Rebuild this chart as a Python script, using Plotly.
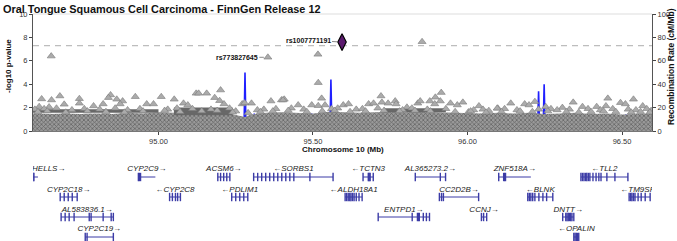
import plotly.graph_objects as go

# ---------------- data ----------------
# scattered (visible) association points: position (Mb), -log10 p
snp_pos = [94.653, 95.354, 95.516, 95.517, 95.853,
           94.622, 94.654, 94.681, 94.744, 94.845, 94.838, 94.865, 94.884, 94.876, 94.925,
           95.009, 95.051, 94.744, 94.695, 94.790, 94.821, 94.962, 94.984, 95.081, 94.614, 94.646,
           95.122, 95.130, 95.156, 95.201, 95.182, 95.198, 95.212, 95.364, 95.398, 95.407,
           95.528, 95.301, 95.271, 95.452, 95.496, 95.517, 95.539, 95.095, 95.341, 95.279, 95.403,
           95.915, 95.896, 95.720, 95.723, 95.743, 95.766, 95.769, 95.839, 95.847, 95.878,
           95.912, 95.894, 95.598, 95.615, 95.680, 95.696, 95.945, 95.967, 95.985, 96.037,
           96.069, 96.098, 95.804, 96.003,
           96.140, 96.185, 96.199, 96.218, 96.342, 96.418, 96.454, 96.495, 96.511, 96.537,
           96.096, 96.253, 96.307, 96.372, 96.448, 96.545, 96.567, 96.594,
           94.600, 94.630, 94.670, 94.720, 94.760, 94.810, 94.860, 94.900, 94.940, 95.030,
           95.060, 95.110, 95.170, 95.230, 95.250, 95.320, 95.380, 95.430, 95.470, 95.560,
           95.580, 95.640, 95.660, 95.710, 95.790, 95.820, 95.870, 95.930, 96.020, 96.050,
           96.120, 96.160, 96.230, 96.270, 96.290, 96.330, 96.390, 96.430, 96.470, 96.520,
           96.580,
           94.610, 94.640, 94.700, 94.770, 94.830, 94.890, 94.950, 95.020, 95.070, 95.140,
           95.190, 95.240, 95.290, 95.330, 95.370, 95.420, 95.480, 95.530, 95.570, 95.620,
           95.670, 95.730, 95.780, 95.830, 95.880, 95.960, 96.010, 96.060, 96.110, 96.170,
           96.210, 96.260, 96.320, 96.360, 96.400, 96.440, 96.480, 96.530, 96.560, 96.590]
snp_logp = [6.40, 6.30, 6.55, 4.13, 7.63,
            2.74, 2.65, 2.99, 2.76, 3.08, 2.85, 2.71, 2.56, 2.31, 2.93,
            2.93, 2.71, 2.37, 2.28, 2.14, 2.31, 2.31, 2.31, 2.37, 2.08, 2.05,
            3.22, 3.22, 3.22, 3.50, 2.85, 2.59, 2.31, 2.56, 2.65, 2.71,
            2.79, 2.37, 2.31, 2.22, 2.22, 2.16, 2.22, 2.22, 1.85, 2.40, 2.65,
            3.28, 2.88, 2.99, 2.45, 2.37, 2.56, 2.31, 2.37, 2.56, 2.56,
            2.56, 2.31, 2.22, 2.31, 2.31, 2.37, 2.37, 2.22, 2.45, 2.14,
            1.74, 1.94, 2.03, 1.62,
            2.37, 2.31, 2.22, 2.51, 2.45, 2.08, 2.79, 2.42, 2.31, 2.71,
            1.94, 2.08, 2.00, 2.08, 2.14, 1.80, 2.14, 1.74,
            1.85, 1.90, 1.95, 1.80, 1.90, 1.85, 1.95, 1.80, 1.90, 1.85,
            1.95, 1.90, 1.85, 1.95, 1.70, 1.80, 1.90, 1.95, 1.85, 1.90,
            1.95, 1.85, 1.90, 1.95, 1.80, 1.95, 1.85, 1.90, 1.80, 1.85,
            1.90, 1.80, 1.85, 1.90, 1.80, 1.85, 1.90, 1.80, 1.90, 1.85,
            1.90,
            1.65, 1.70, 1.60, 1.70, 1.65, 1.60, 1.70, 1.75, 1.65, 1.70,
            1.75, 1.60, 1.55, 1.65, 1.70, 1.75, 1.65, 1.70, 1.75, 1.65,
            1.70, 1.75, 1.70, 1.75, 1.70, 1.65, 1.70, 1.60, 1.65, 1.70,
            1.65, 1.70, 1.65, 1.60, 1.65, 1.70, 1.65, 1.60, 1.65, 1.60]

lead_pos = [95.594]
lead_logp = [7.60]
lead_name = "rs1007771191"
second_name = "rs773827645"
second_pos = 95.354
second_logp = 6.30
gw_threshold = 7.3

# dense band of SNPs (upper envelope)
band_pos = [94.59, 94.65, 94.70, 94.75, 94.80, 94.85, 94.90, 94.95, 95.00, 95.05, 95.10,
            95.15, 95.20, 95.25, 95.28, 95.30, 95.35, 95.40, 95.45, 95.50, 95.55, 95.60,
            95.65, 95.70, 95.75, 95.80, 95.85, 95.90, 95.95, 96.00, 96.05, 96.10, 96.15,
            96.20, 96.25, 96.30, 96.35, 96.40, 96.45, 96.50, 96.55, 96.60]
band_top = [1.50, 1.45, 1.50, 1.45, 1.50, 1.45, 1.55, 1.50, 1.60, 1.55, 1.65,
            1.60, 1.65, 1.40, 1.20, 1.40, 1.55, 1.60, 1.55, 1.50, 1.65, 1.60,
            1.55, 1.60, 1.65, 1.60, 1.65, 1.60, 1.55, 1.55, 1.50, 1.55, 1.50,
            1.55, 1.45, 1.50, 1.55, 1.45, 1.50, 1.40, 1.45, 1.50]

# darker LD streaks inside the band
streak_start = [94.59, 95.05, 95.73]
streak_end = [95.00, 95.24, 95.93]
streak_low = [1.55, 1.35, 1.60]
streak_high = [1.85, 2.00, 1.95]

# recombination rate (cM/Mb)
recomb_pos = [94.59, 94.80, 95.00, 95.277, 95.280, 95.283, 95.307, 95.310, 95.313,
              95.493, 95.496, 95.499, 95.555, 95.558, 95.561, 95.80, 96.227, 96.230,
              96.233, 96.245, 96.248, 96.251, 96.510, 96.513, 96.516, 96.60]
recomb_rate = [3, 2, 3, 4, 50, 4, 5, 15, 5,
               4, 15, 4, 5, 44, 6, 3, 4, 34,
               5, 5, 40, 5, 4, 14, 4, 3]

# genes
gene_names = ["HELLS", "CYP2C9", "ACSM6", "SORBS1", "TCTN3", "AL365273.2", "ZNF518A", "TLL2",
              "CYP2C18", "CYP2C8", "PDLIM1", "ALDH18A1", "CC2D2B", "BLNK", "TM9SF3",
              "AL583836.1", "ENTPD1", "CCNJ", "DNTT",
              "CYP2C19", "OPALIN"]
gene_start = [94.591, 94.935, 95.192, 95.308, 95.662, 95.831, 96.101, 96.367,
              94.682, 95.036, 95.237, 95.604, 95.909, 96.195, 96.523,
              94.685, 95.711, 96.045, 96.308,
              94.763, 96.344]
gene_end = [94.610, 94.990, 95.231, 95.565, 95.695, 95.929, 96.205, 96.519,
            94.737, 95.071, 95.289, 95.659, 96.036, 96.276, 96.591,
            94.854, 95.877, 96.062, 96.344,
            94.854, 96.360]
gene_strand = ["+", "+", "+", "-", "-", "+", "+", "-",
               "+", "-", "-", "-", "+", "-", "-",
               "+", "+", "+", "+",
               "+", "-"]
gene_row = [1, 1, 1, 1, 1, 1, 1, 1,
            2, 2, 2, 2, 2, 2, 2,
            3, 3, 3, 3,
            4, 4]
gene_exons = [
    [94.591, 94.594, 94.597],
    [94.935, 94.938, 94.942],
    [95.192, 95.201, 95.211, 95.221, 95.231],
    [95.308, 95.321, 95.334, 95.347, 95.360, 95.373, 95.386, 95.399, 95.412, 95.425, 95.438, 95.490, 95.565],
    [95.662, 95.679, 95.682, 95.685, 95.695],
    [95.831, 95.912, 95.929],
    [96.101, 96.117, 96.120, 96.123],
    [96.367, 96.372, 96.377, 96.382, 96.386, 96.391, 96.396, 96.406, 96.416, 96.425, 96.432, 96.451, 96.477, 96.519],
    [94.682, 94.695, 94.708, 94.721, 94.737],
    [95.036, 95.045, 95.055, 95.062, 95.071],
    [95.237, 95.250, 95.263, 95.276, 95.289],
    [95.604, 95.609, 95.614, 95.619, 95.623, 95.628, 95.633, 95.640, 95.649, 95.659],
    [95.909, 95.916, 95.922, 96.036],
    [96.195, 96.200, 96.205, 96.211, 96.218, 96.231, 96.244, 96.256, 96.276],
    [96.523, 96.528, 96.532, 96.537, 96.542, 96.552, 96.562, 96.575, 96.591],
    [94.685, 94.698, 94.711, 94.727, 94.776, 94.782, 94.821, 94.847, 94.854],
    [95.711, 95.821, 95.838, 95.841, 95.844, 95.857, 95.867, 95.877],
    [96.045, 96.052, 96.062],
    [96.308, 96.318, 96.322, 96.326, 96.330, 96.334, 96.338, 96.344],
    [94.763, 94.769, 94.854],
    [96.344, 96.348, 96.352, 96.356, 96.360],
]

x_range = [94.594, 96.597]
x_ticks = [95.0, 95.5, 96.0, 96.5]
left_ticks = [0, 2, 4, 6, 8, 10]
right_ticks = [0, 20, 40, 60, 80, 100]

# ---------------- layout constants ----------------
W, H = 677, 241
ML, MR, MT, MB = 33, 25, 14, 0
PH = H - MT - MB
PW = W - ML - MR
FONT = "Arial, 'Liberation Sans', Helvetica, sans-serif"
GENE_COLOR = "#3b3ba6"
GRAY_TRI = "#ababab"

def py(pix):
    return (H - MB - pix) / PH

def px(pix):
    return (pix - ML) / PW

main_dom = [py(131), 1.0]
gene_dom = [0.0, py(160)]
row_bar = {1: 17, 2: 37, 3: 57, 4: 77}
row_lab = {1: 9, 2: 30, 3: 50, 4: 69}

fig = go.Figure()

# recombination rate, scaled onto the -log10 axis (100 cM/Mb == 10)
fig.add_trace(go.Scatter(x=recomb_pos, y=[r / 10.0 for r in recomb_rate], mode="lines",
                         line=dict(color="#2020ff", width=1.6), hoverinfo="skip",
                         xaxis="x", yaxis="y"))

# dense band
fig.add_trace(go.Scatter(x=band_pos, y=band_top, mode="lines", fill="tozeroy",
                         line=dict(width=0, color="#8a8a8a"),
                         fillcolor="#8e8e8e",
                         fillpattern=dict(shape="x", size=3, solidity=0.4,
                                          fgcolor="#5e5e5e", bgcolor="#9a9a9a"),
                         hoverinfo="skip", xaxis="x", yaxis="y"))

# LD streaks
for s, e, lo, hi in zip(streak_start, streak_end, streak_low, streak_high):
    fig.add_trace(go.Scatter(x=[s, e, e, s, s], y=[lo, lo, hi, hi, lo], mode="lines",
                             fill="toself", line=dict(width=0),
                             fillcolor="#707070",
                             fillpattern=dict(shape="-", size=2, solidity=0.5,
                                              fgcolor="#4a4a4a", bgcolor="#858585"),
                             hoverinfo="skip", xaxis="x", yaxis="y"))

# scattered points
fig.add_trace(go.Scatter(x=snp_pos, y=snp_logp, mode="markers",
                         marker=dict(symbol="triangle-up", size=7, color=GRAY_TRI,
                                     line=dict(width=0.6, color="#7a7a7a")),
                         hoverinfo="skip", xaxis="x", yaxis="y"))

# lead SNP
fig.add_trace(go.Scatter(x=lead_pos, y=lead_logp, mode="markers",
                         marker=dict(symbol="diamond-tall", size=12, color="#5b1a6e",
                                     line=dict(width=1.2, color="black")),
                         hoverinfo="skip", xaxis="x", yaxis="y"))

# dummy trace for right axis
fig.add_trace(go.Scatter(x=[x_range[0]], y=[0], mode="markers", marker=dict(opacity=0),
                         hoverinfo="skip", xaxis="x", yaxis="y2"))

# genes
body_x, body_y = [], []
ex_x, ex_y = [], []
lab_x, lab_y, lab_t, lab_pos = [], [], [], []
for name, s, e, strand, row, exons in zip(gene_names, gene_start, gene_end, gene_strand,
                                          gene_row, gene_exons):
    yb = row_bar[row]
    body_x += [s, e, None]
    body_y += [yb, yb, None]
    for ex in exons:
        ex_x.append(ex)
        ex_y.append(yb)
    text = f"{name}\u2192" if strand == "+" else f"\u2190{name}"
    if s - x_range[0] < 0.02:
        lab_x.append(s)
        lab_pos.append("middle right")
    else:
        lab_x.append((s + e) / 2)
        lab_pos.append("middle center")
    lab_y.append(row_lab[row])
    lab_t.append(text)

fig.add_trace(go.Scatter(x=body_x, y=body_y, mode="lines",
                         line=dict(color=GENE_COLOR, width=1), hoverinfo="skip",
                         xaxis="x", yaxis="y3"))
fig.add_trace(go.Scatter(x=ex_x, y=ex_y, mode="markers",
                         marker=dict(symbol="line-ns", size=6,
                                     line=dict(width=1.4, color=GENE_COLOR)),
                         hoverinfo="skip", xaxis="x", yaxis="y3"))
fig.add_trace(go.Scatter(x=lab_x, y=lab_y, mode="text", text=lab_t, textposition=lab_pos,
                         textfont=dict(family=FONT, size=8, color="#222222", style="italic"),
                         hoverinfo="skip", xaxis="x", yaxis="y3"))

tickfont = dict(family=FONT, size=7.5, color="#333333")
fig.update_layout(
    template="none",
    width=W, height=H, autosize=False, margin=dict(l=ML, r=MR, t=MT, b=MB, pad=0),
    paper_bgcolor="white", plot_bgcolor="white", showlegend=False,
    xaxis=dict(range=x_range, domain=[0, 1], anchor="y", tickvals=x_ticks,
               tickformat=".2f", ticks="outside", ticklen=3, tickcolor="#444",
               showline=True, linecolor="#777", linewidth=1, showgrid=False,
               zeroline=False, tickfont=tickfont, automargin=False),
    yaxis=dict(range=[0, 10], domain=main_dom, tickvals=left_ticks, ticks="outside",
               ticklen=3, tickcolor="#444", showline=True, linecolor="#555",
               linewidth=1, showgrid=False, zeroline=False, tickfont=tickfont,
               automargin=False),
    yaxis2=dict(range=[0, 100], overlaying="y", side="right", anchor="x",
                tickvals=right_ticks, ticks="outside", ticklen=3, tickcolor="#444",
                showline=True, linecolor="#555", linewidth=1, showgrid=False,
                zeroline=False, tickfont=tickfont, automargin=False),
    yaxis3=dict(range=[81, 0], domain=gene_dom, visible=False, anchor="x",
                automargin=False),
)

# threshold line
fig.add_shape(type="line", xref="paper", x0=0, x1=1, yref="y", y0=gw_threshold,
              y1=gw_threshold, line=dict(color="#bdbdbd", width=1.3, dash="6px,5px"),
              layer="below")
# top border
fig.add_shape(type="line", xref="paper", x0=0, x1=1, yref="paper", y0=1, y1=1,
              line=dict(color="#dddddd", width=1))

annots = [
    dict(text="<b>Oral Tongue Squamous Cell Carcinoma - FinnGen Release 12</b>",
         xref="paper", yref="paper", x=px(1), y=py(9), xanchor="left", yanchor="middle",
         showarrow=False, font=dict(family=FONT, size=10.9, color="#111")),
    dict(text="<b>-log10 p-value</b>", xref="paper", yref="paper", x=px(8), y=py(66),
         textangle=-90, showarrow=False, xanchor="center", yanchor="middle",
         font=dict(family=FONT, size=8, color="#111")),
    dict(text="<b>Recombination Rate (cM/Mb)</b>", xref="paper", yref="paper", x=px(671),
         y=py(67), textangle=-90, showarrow=False, xanchor="center", yanchor="middle",
         font=dict(family=FONT, size=8.5, color="#111")),
    dict(text="<b>Chromosome 10 (Mb)</b>", xref="paper", yref="paper", x=0.5, y=py(149),
         showarrow=False, xanchor="center", yanchor="middle",
         font=dict(family=FONT, size=8, color="#111")),
    dict(text=f"<b>{lead_name}</b>", x=lead_pos[0], y=lead_logp[0], xref="x", yref="y",
         showarrow=True, ax=-34, ay=-2, arrowhead=0, arrowwidth=0.7, arrowcolor="#555",
         standoff=5, font=dict(family=FONT, size=7, color="#111")),
    dict(text=f"<b>{second_name}</b>", x=second_pos, y=second_logp, xref="x", yref="y",
         showarrow=True, ax=-31, ay=0, arrowhead=0, arrowwidth=0.7, arrowcolor="#555",
         standoff=4, font=dict(family=FONT, size=7, color="#111")),
]
fig.update_layout(annotations=annots)

fig.write_html(
    "out.html",
    config={"displayModeBar": False, "staticPlot": True},
    post_script=(
        "document.documentElement.style.margin='0';"
        "document.documentElement.style.overflow='hidden';"
        "document.body.style.margin='0';"
        "document.body.style.overflow='hidden';"
    ),
)
